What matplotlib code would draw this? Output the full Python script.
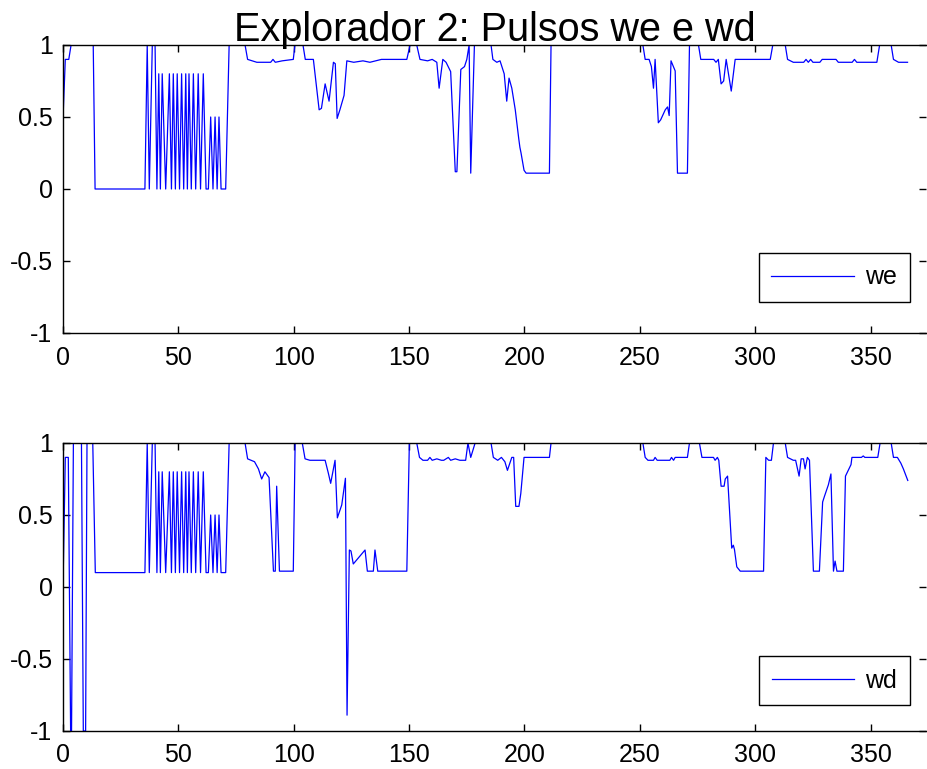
import matplotlib
matplotlib.use("Agg")
import matplotlib.pyplot as plt

plt.rcParams["font.family"] = ["Liberation Sans", "DejaVu Sans"]

# ---- series "we" (upper panel): sample positions and values ----
we_x = [0, 1, 2.5, 3.5, 13.1, 13.9, 35.5, 36.5, 37.4, 38.7, 39.9, 40.7,
        41.5, 42.2, 43.0, 44.5, 46.1, 47.0, 47.8, 48.7, 49.5, 50.5, 51.4, 52.3,
        53.2, 53.9, 54.6, 55.6, 56.5, 57.5, 58.6, 59.6, 60.8, 62.0,
        63.0, 64.0, 65.0, 65.9, 66.8, 67.6, 68.5, 70.5, 72.0,
        78.9, 80, 84, 90, 91, 92, 95, 99.8, 100.5, 104, 105, 108.5,
        111, 112, 113.6, 115.3, 117.2, 118, 118.8, 120, 121.8, 123,
        126, 130, 133, 138, 145, 149, 150.4, 153.3, 154.7, 158, 160, 162,
        163, 164.6, 166, 168, 170, 170.7, 172.4, 174, 175, 176, 176.7, 178.3,
        185.5, 186.3, 188, 189.4, 191.2, 192.3, 193.3, 194.5, 196, 197.5,
        198, 198.5, 199.8, 200.7, 210.8, 211.5, 251.3, 252.3, 254, 255,
        255.9, 256.6, 258, 259, 261, 262, 262.7, 263.5, 265.3, 266.3,
        270.6, 271.5, 275.4, 276.4, 282, 283, 284, 285.2, 286.3, 287.4,
        289.6, 291.3, 300, 306.5, 307.6, 313, 314, 316.5, 321, 322, 323,
        324, 325, 328, 329, 335, 336, 342, 343, 344, 352.7, 353.9, 358.9,
        359.9, 362.1, 366]
we_y = [0.49, 0.9, 0.9, 1, 1, 0, 0, 1, 0, 1, 1, 0,
        0.8, 0, 0.8, 0, 0.8, 0, 0.8, 0, 0.8, 0, 0.8, 0,
        0.8, 0, 0.8, 0, 0.8, 0, 0.8, 0, 0.8, 0,
        0, 0.5, 0, 0.5, 0, 0.5, 0, 0, 1,
        1, 0.9, 0.88, 0.88, 0.9, 0.88, 0.89, 0.9, 1, 1, 0.9, 0.9,
        0.55, 0.56, 0.73, 0.61, 0.88, 0.87, 0.49, 0.55, 0.65, 0.89,
        0.88, 0.89, 0.88, 0.9, 0.9, 0.9, 1, 1, 0.9, 0.89, 0.9, 0.88,
        0.70, 0.9, 0.88, 0.815, 0.12, 0.12, 0.83, 0.85, 0.9, 1, 0.11, 1,
        1, 0.9, 0.88, 0.89, 0.80, 0.61, 0.77, 0.7, 0.55, 0.35,
        0.29, 0.25, 0.13, 0.11, 0.11, 1, 1, 0.9, 0.9, 0.85,
        0.70, 0.9, 0.46, 0.48, 0.55, 0.57, 0.51, 0.89, 0.82, 0.11,
        0.11, 1, 1, 0.9, 0.9, 0.88, 0.9, 0.73, 0.75, 0.9,
        0.68, 0.9, 0.9, 0.9, 1, 1, 0.9, 0.88, 0.88, 0.9, 0.88,
        0.9, 0.88, 0.88, 0.9, 0.9, 0.88, 0.88, 0.9, 0.88, 0.88, 1, 1,
        0.9, 0.88, 0.88]

# ---- series "wd" (lower panel) ----
wd_x = [0, 1, 2.3, 3.3, 3.7, 4.5, 8.0, 8.8, 9.8, 10.4, 12.9, 14, 35.5,
        36.5, 37.4, 38.7, 39.9, 40.7,
        41.5, 42.2, 43.0, 44.5, 46.1, 47.0, 47.8, 48.7, 49.5, 50.5, 51.4, 52.3,
        53.2, 53.9, 54.6, 55.6, 56.5, 57.5, 58.6, 59.6, 60.8, 62.0,
        63.0, 64.0, 65.0, 65.9, 66.8, 67.6, 68.5, 70.5, 72.0,
        78.9, 80, 83, 84.7, 86.1, 87.5, 89.3, 91.2, 92, 92.6, 93.8, 99.8,
        100.6, 103.7, 104.9, 107, 113.6, 115, 116, 117.9, 118.9, 120.8,
        121.5, 122.4, 123.1, 124.1, 124.8, 125.8, 128.4, 130.9, 131.9,
        134.5, 135.2, 136.4, 149, 150.1, 153.3, 154.5, 156, 158, 159, 160,
        162, 164, 165, 167, 168, 170, 172, 174.5, 175.5, 176.7, 178.6,
        185.5, 186.5, 188.4, 190, 191.5, 192.6, 194.5, 195.3, 196.2, 197.6,
        198.4, 199.8, 210.8, 211.5, 251.3, 252.3, 253.5, 255.9, 256.6,
        257.5, 263, 263.7, 264.6, 265.3, 270.6, 271.5, 275.8, 276.9, 281.9,
        282.6, 283.6, 284.2, 285.2, 286.5, 287.0, 288, 289.8, 290.5, 291,
        292, 293.5, 303.6, 304.6, 305.8, 307, 307.9, 313, 314, 316.5, 317.5,
        319, 319.9, 320.9, 321.6, 322.6, 323.5, 325.2, 327.8, 329.2, 330,
        331.7, 332.8, 333.9, 334.6, 335.4, 338.2, 339.1, 341.5, 341.9, 346,
        346.8, 347.5, 353.1, 354.1, 358.9, 359.9, 361.6, 363.1, 364.2, 366.1]
wd_y = [0, 0.9, 0.9, -1, -1, 1, 1, -1, -1, 1, 1, 0.1, 0.1,
        1, 0.1, 1, 1, 0.1,
        0.8, 0.1, 0.8, 0.1, 0.8, 0.1, 0.8, 0.1, 0.8, 0.1, 0.8, 0.1,
        0.8, 0.1, 0.8, 0.1, 0.8, 0.1, 0.8, 0.1, 0.8, 0.1,
        0.1, 0.5, 0.1, 0.5, 0.1, 0.5, 0.1, 0.1, 1,
        1, 0.89, 0.87, 0.82, 0.75, 0.8, 0.76, 0.11, 0.11, 0.70, 0.11, 0.11,
        1, 1, 0.89, 0.88, 0.88, 0.79, 0.72, 0.88, 0.48, 0.57,
        0.65, 0.755, -0.89, 0.257, 0.25, 0.16, 0.21, 0.257, 0.11,
        0.11, 0.257, 0.11, 0.11, 1, 1, 0.9, 0.88, 0.88, 0.9, 0.88,
        0.89, 0.88, 0.88, 0.9, 0.88, 0.89, 0.88, 0.88, 1, 0.9, 1,
        1, 0.9, 0.88, 0.9, 0.87, 0.81, 0.9, 0.9, 0.56, 0.56,
        0.65, 0.9, 0.9, 1, 1, 0.9, 0.88, 0.88, 0.9,
        0.88, 0.88, 0.9, 0.88, 0.9, 0.9, 1, 1, 0.9, 0.9,
        0.88, 0.9, 0.88, 0.70, 0.70, 0.75, 0.77, 0.27, 0.29, 0.26,
        0.14, 0.11, 0.11, 0.9, 0.88, 0.88, 1, 1, 0.9, 0.88, 0.88,
        0.77, 0.89, 0.89, 0.82, 0.9, 0.88, 0.11, 0.11, 0.59, 0.63,
        0.71, 0.785, 0.11, 0.18, 0.11, 0.11, 0.77, 0.85, 0.9, 0.9,
        0.91, 0.9, 0.9, 1, 1, 0.9, 0.9, 0.86, 0.82, 0.74]

x_ticks = [0, 50, 100, 150, 200, 250, 300, 350]
y_ticks = [-1, -0.5, 0, 0.5, 1]
y_tick_labels = ["-1", "-0.5", "0", "0.5", "1"]
title_text = "Explorador 2: Pulsos we e wd"

W, H = 928, 769
fig = plt.figure(figsize=(W / 100, H / 100), dpi=100)

left = 63 / W
width = (926 - 63) / W
height = 288 / H
ax_top = fig.add_axes([left, 1 - 333 / H, width, height])
ax_bot = fig.add_axes([left, 1 - 731 / H, width, height])


def style(ax, xs, ys, name, legend_y):
    ax.plot(xs, ys, color="#0000ff", lw=0.9, label=name)
    ax.set_xlim(0, 374)
    ax.set_ylim(-1, 1)
    ax.set_xticks(x_ticks)
    ax.set_xticklabels([str(t) for t in x_ticks])
    ax.set_yticks(y_ticks)
    ax.set_yticklabels(y_tick_labels)
    ax.spines["right"].set_visible(False)
    for s in ("left", "bottom", "top"):
        ax.spines[s].set_linewidth(1.0)
        ax.spines[s].set_color("black")
    ax.tick_params(direction="in", length=5, width=1, labelsize=18,
                   top=True, right=True)
    ax.tick_params(axis="x", pad=9)
    ax.tick_params(axis="y", pad=7.5)
    leg = ax.legend(loc="lower right", bbox_to_anchor=(0.981, legend_y),
                    borderaxespad=0, fontsize=18, handlelength=3.3,
                    handletextpad=0.45, borderpad=0.5, fancybox=False,
                    framealpha=1, edgecolor="black")
    leg.get_frame().set_linewidth(1.0)


style(ax_top, we_x, we_y, "we", 0.108)
style(ax_bot, wd_x, wd_y, "wd", 0.09)
ax_top.set_title(title_text, fontsize=28.5, pad=3)

fig.savefig("out.png", dpi=100)
